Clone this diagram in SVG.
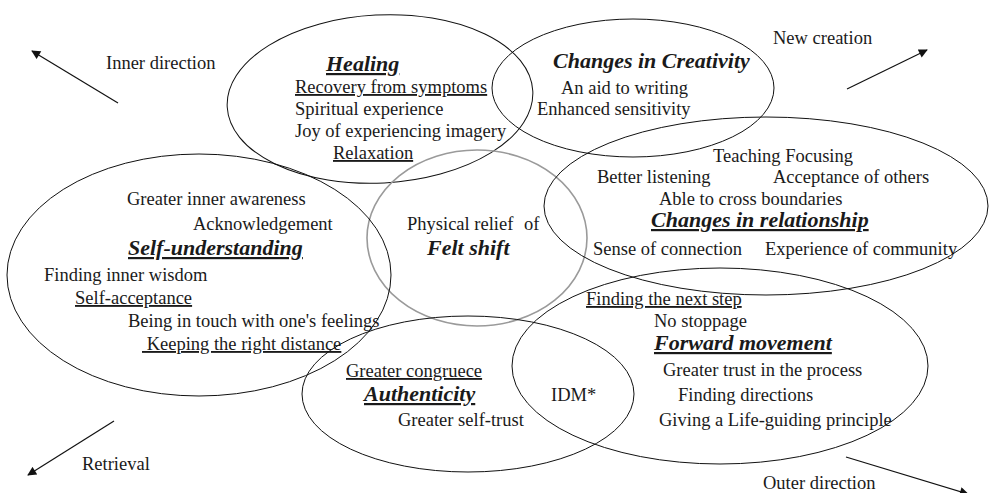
<svg xmlns="http://www.w3.org/2000/svg" width="991" height="493" viewBox="0 0 991 493">
<style>
.e{fill:none;stroke:#111;stroke-width:1}
.g{fill:none;stroke:#9a9a9a;stroke-width:1.6}
text{font-family:"Liberation Serif","Times New Roman",serif;font-size:18.5px;fill:#1a1a1a}
.h{font-weight:bold;font-style:italic;font-size:22px}
.u{text-decoration:underline}
.a{stroke:#111;stroke-width:1.2;fill:none;marker-end:url(#ah)}
</style>
<defs>
<marker id="ah" viewBox="0 0 10 10" refX="9" refY="5" markerWidth="11" markerHeight="9" markerUnits="userSpaceOnUse" orient="auto">
<path d="M0,0 L10,5 L0,10 z" fill="#111"/>
</marker>
</defs>
<rect width="991" height="493" fill="#fff"/>
<g id="healing">
<ellipse class="e" cx="380" cy="99" rx="153" ry="84" transform="rotate(-3 380 99)"/>
<text class="h u" x="326" y="71">Healing</text>
<text class="u" x="295" y="93">Recovery from symptoms</text>
<text x="295" y="115">Spiritual experience</text>
<text x="295" y="137">Joy of experiencing imagery</text>
<text class="u" x="333" y="159">Relaxation</text>
</g>
<g id="creativity">
<ellipse class="e" cx="633" cy="88" rx="141" ry="69"/>
<text class="h" x="553" y="68">Changes in Creativity</text>
<text x="561" y="94">An aid to writing</text>
<text x="537" y="115">Enhanced sensitivity</text>
</g>
<g id="felt-shift">
<ellipse class="g" cx="477" cy="238" rx="110" ry="88"/>
<text x="407" y="230">Physical relief</text>
<text x="524" y="230">of</text>
<text class="h" x="427" y="255">Felt shift</text>
</g>
<g id="relationship">
<ellipse class="e" cx="766" cy="206" rx="222" ry="89"/>
<text x="713" y="162">Teaching Focusing</text>
<text x="597" y="183">Better listening</text>
<text x="773" y="183">Acceptance of others</text>
<text x="659" y="205">Able to cross boundaries</text>
<text class="h u" x="651" y="227">Changes in relationship</text>
<text x="593" y="255">Sense of connection</text>
<text x="765" y="255">Experience of community</text>
</g>
<g id="self-understanding">
<ellipse class="e" cx="199" cy="275" rx="192" ry="121"/>
<text x="127" y="205">Greater inner awareness</text>
<text x="193" y="230">Acknowledgement</text>
<text class="h u" x="128" y="255">Self-understanding</text>
<text x="44" y="281">Finding inner wisdom</text>
<text class="u" x="75" y="304">Self-acceptance</text>
<text x="128" y="327">Being in touch with one's feelings</text>
<text class="u" x="142" y="350" xml:space="preserve"> Keeping the right distance</text>
</g>
<g id="authenticity">
<ellipse class="e" cx="468" cy="394" rx="166" ry="78"/>
<text class="u" x="346" y="377">Greater congruece</text>
<text class="h u" x="364" y="401">Authenticity</text>
<text x="398" y="426">Greater self-trust</text>
</g>
<g id="forward-movement">
<ellipse class="e" cx="720" cy="366" rx="208" ry="98"/>
<text class="u" x="586" y="305">Finding the next step</text>
<text x="654" y="327">No stoppage</text>
<text class="h u" x="654" y="350">Forward movement</text>
<text x="663" y="376">Greater trust in the process</text>
<text x="551" y="401">IDM*</text>
<text x="678" y="401">Finding directions</text>
<text x="659" y="426">Giving a Life-guiding principle</text>
</g>
<g id="connectors">
<line class="a" x1="118" y1="103" x2="32" y2="51"/>
<line class="a" x1="847" y1="89" x2="927" y2="50"/>
<line class="a" x1="114" y1="421" x2="28" y2="475"/>
<line class="a" x1="846" y1="457" x2="968" y2="494"/>
<text x="106" y="69">Inner direction</text>
<text x="773" y="44">New creation</text>
<text x="82" y="470">Retrieval</text>
<text x="763" y="489">Outer direction</text>
</g>
</svg>
